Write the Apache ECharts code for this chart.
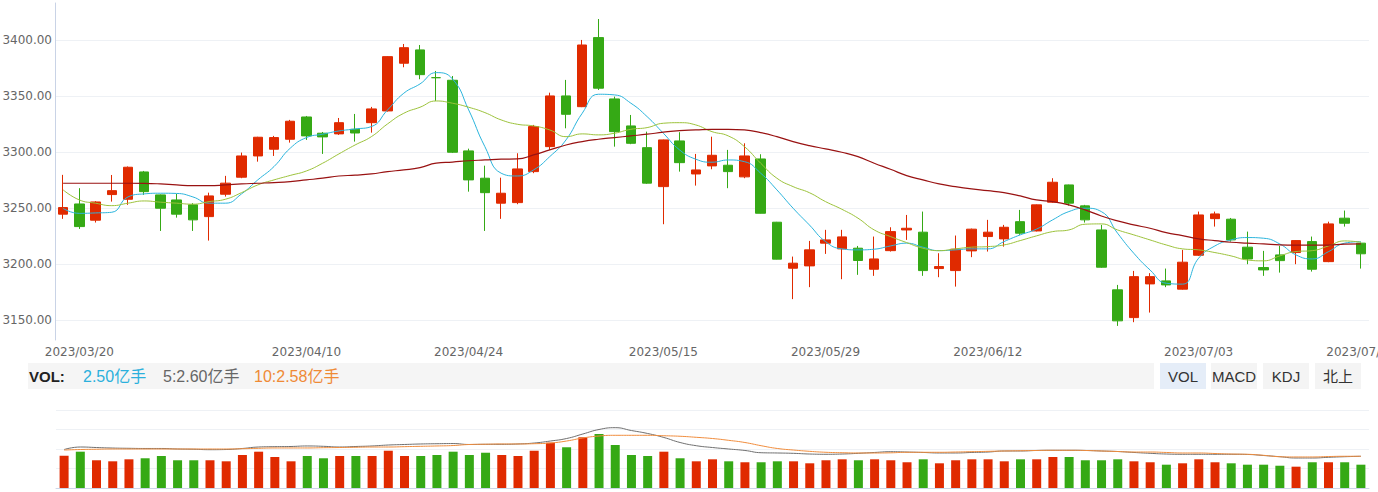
<!DOCTYPE html>
<html>
<head>
<meta charset="utf-8">
<script src="https://cdn.jsdelivr.net/npm/echarts/dist/echarts.min.js"></script>
<style>
html,body{margin:0;padding:0;background:#fff;}
#chart{width:1378px;height:492px;}
</style>
</head>
<body>
<div id="chart"></div>
<script>
const dates = ['2023/03/17','2023/03/20','2023/03/21','2023/03/22','2023/03/23','2023/03/24','2023/03/27','2023/03/28','2023/03/29','2023/03/30','2023/03/31',
'2023/04/03','2023/04/04','2023/04/06','2023/04/07','2023/04/10','2023/04/11','2023/04/12','2023/04/13','2023/04/14','2023/04/17','2023/04/18','2023/04/19','2023/04/20','2023/04/21','2023/04/24','2023/04/25','2023/04/26','2023/04/27','2023/04/28',
'2023/05/04','2023/05/05','2023/05/08','2023/05/09','2023/05/10','2023/05/11','2023/05/12','2023/05/15','2023/05/16','2023/05/17','2023/05/18','2023/05/19','2023/05/22','2023/05/23','2023/05/24','2023/05/25','2023/05/26','2023/05/29','2023/05/30','2023/05/31',
'2023/06/01','2023/06/02','2023/06/05','2023/06/06','2023/06/07','2023/06/08','2023/06/09','2023/06/12','2023/06/13','2023/06/14','2023/06/15','2023/06/16','2023/06/19','2023/06/20','2023/06/21','2023/06/26','2023/06/27','2023/06/28','2023/06/29','2023/06/30',
'2023/07/03','2023/07/04','2023/07/05','2023/07/06','2023/07/07','2023/07/10','2023/07/11','2023/07/12','2023/07/13','2023/07/14','2023/07/17'];

const xTickLabels = ['2023/03/20','2023/04/10','2023/04/24','2023/05/15','2023/05/29','2023/06/12','2023/07/03','2023/07/17'];

const openPrices = [3244.4,3253.5,3239.0,3261.9,3257.7,3282.1,3261.6,3257.1,3252.7,3242.2,3262.2,3277.4,3296.4,3302.4,3311.3,3331.2,3316.7,3316.1,3320.2,3326.1,
3336.6,3379.2,3391.1,3366.3,3364.0,3300.9,3276.5,3254.2,3254.7,3282.4,3304.7,3350.0,3340.4,3402.1,3347.3,3323.2,3303.8,3269.0,3309.8,3280.3,
3287.5,3288.1,3277.7,3293.7,3237.2,3196.1,3198.2,3218.5,3213.4,3214.0,3195.2,3211.8,3230.3,3228.3,3195.8,3194.0,3211.6,3224.4,3222.3,3237.7,
3229.4,3255.1,3270.5,3251.8,3230.3,3176.8,3152.0,3182.1,3184.8,3177.4,3207.7,3240.4,3239.9,3214.9,3196.7,3208.0,3210.1,3219.9,3202.0,3240.8,3218.5];
const closePrices = [3250.3,3233.3,3255.3,3265.4,3286.3,3264.5,3249.7,3244.4,3239.3,3260.7,3272.1,3296.4,3313.1,3312.8,3327.4,3314.3,3313.4,3326.1,3316.9,3338.4,
3385.1,3393.1,3369.0,3366.3,3299.7,3275.0,3263.6,3263.1,3284.8,3322.6,3350.0,3333.6,3395.5,3356.9,3318.1,3307.7,3272.1,3310.7,3290.4,3283.9,
3297.0,3282.4,3296.4,3245.2,3204.2,3200.6,3212.5,3221.4,3224.1,3203.0,3204.4,3228.8,3231.8,3194.0,3197.6,3213.1,3231.0,3228.3,3232.7,3227.4,
3252.7,3272.9,3254.2,3239.3,3197.0,3149.1,3188.6,3188.6,3181.2,3201.5,3243.7,3244.6,3221.4,3204.4,3194.6,3202.9,3220.8,3195.2,3235.7,3236.3,3209.0];
const lowPrices = [3240.2,3231.2,3236.9,3255.6,3252.7,3261.6,3229.4,3241.3,3229.4,3220.8,3260.1,3276.5,3291.3,3296.4,3308.3,3310.7,3298.2,3315.2,3309.2,3317.2,
3336.0,3375.6,3364.9,3345.5,3299.0,3264.5,3229.4,3240.2,3253.3,3281.0,3301.8,3321.1,3340.0,3355.3,3304.7,3306.9,3271.5,3235.4,3282.4,3269.9,
3284.5,3267.6,3276.5,3245.0,3204.0,3168.5,3179.2,3208.9,3186.3,3190.2,3189.3,3211.0,3221.4,3189.3,3188.1,3179.7,3206.0,3211.0,3215.4,3225.9,
3229.0,3254.5,3252.0,3236.9,3196.5,3144.6,3147.9,3156.5,3179.2,3177.0,3207.0,3233.3,3219.9,3199.7,3189.3,3192.2,3199.7,3193.1,3201.5,3233.3,3195.8];
const highPrices = [3279.5,3267.6,3256.0,3279.4,3287.0,3283.0,3262.0,3262.5,3254.2,3263.6,3278.6,3299.4,3313.5,3314.3,3328.6,3332.1,3317.8,3330.3,3333.9,3340.2,
3385.5,3396.4,3395.5,3372.3,3367.8,3302.9,3287.7,3277.0,3298.8,3324.1,3352.9,3364.3,3400.0,3418.7,3349.4,3333.0,3318.1,3311.0,3317.6,3298.2,
3313.6,3301.8,3307.7,3297.9,3237.5,3206.5,3220.5,3230.4,3230.4,3216.0,3224.4,3232.7,3243.7,3246.7,3209.5,3225.3,3231.5,3239.3,3234.8,3248.2,
3253.0,3276.5,3270.8,3252.7,3234.8,3181.2,3193.7,3191.7,3195.8,3212.5,3246.7,3246.7,3241.0,3228.8,3211.6,3216.0,3221.0,3224.4,3237.7,3247.6,3219.0];

const ma5 = [3249.5,3245.1,3245.5,3246.1,3259.8,3262.5,3263.1,3262.9,3259.8,3254.2,3254.2,3262.5,3275.0,3286.9,3303.3,3312.8,3315.8,3318.7,3320.5,3322.6,
3337.5,3352.4,3360.7,3370.8,3365.2,3337.5,3304.7,3281.0,3278.5,3283.9,3295.8,3310.7,3334.5,3351.5,3350.9,3343.5,3331.5,3316.7,3301.8,3293.5,
3290.8,3292.8,3291.3,3281.0,3266.1,3249.7,3234.8,3219.9,3213.4,3212.5,3213.1,3216.0,3218.5,3214.9,3211.8,3212.5,3213.4,3213.4,3219.9,3225.9,
3231.0,3239.3,3246.7,3249.7,3246.7,3227.4,3209.5,3194.6,3182.7,3181.9,3205.1,3216.0,3221.4,3223.5,3222.9,3217.8,3208.0,3204.4,3210.9,3218.5,3219.9];
const ma10 = [3266.1,3257.1,3254.2,3252.0,3254.2,3256.2,3255.1,3254.2,3253.3,3255.6,3257.7,3263.6,3270.5,3275.0,3279.0,3283.0,3289.9,3298.2,3306.2,3313.6,
3325.0,3334.5,3339.9,3345.5,3343.5,3339.9,3335.1,3328.6,3324.7,3323.2,3319.6,3313.6,3316.1,3315.2,3316.7,3320.2,3321.7,3325.6,3326.1,3324.1,
3318.1,3314.3,3304.7,3289.9,3276.5,3269.0,3263.6,3255.6,3248.8,3240.8,3230.3,3224.4,3219.0,3214.0,3211.8,3213.4,3214.9,3215.4,3216.9,3220.8,
3225.0,3228.8,3230.3,3235.4,3235.7,3230.3,3225.9,3221.4,3216.9,3213.4,3212.5,3210.1,3207.1,3203.5,3202.7,3207.1,3211.0,3211.8,3216.0,3220.5,3219.3];
const ma30 = [3272.0,3272.0,3272.0,3272.0,3272.0,3271.9,3271.4,3270.5,3269.9,3269.9,3270.5,3271.4,3272.0,3272.6,3273.5,3275.0,3276.5,3278.5,3279.2,3280.3,
3282.4,3283.9,3286.0,3289.9,3290.9,3292.1,3292.8,3293.5,3293.7,3297.3,3301.8,3306.2,3309.2,3311.3,3312.8,3314.3,3315.8,3317.6,3319.0,3319.6,
3320.2,3320.2,3319.6,3317.2,3313.6,3309.2,3305.6,3302.7,3299.7,3295.8,3289.9,3284.5,3278.8,3275.0,3271.4,3269.0,3267.0,3265.4,3263.6,3260.7,
3257.1,3255.6,3252.7,3248.2,3242.8,3238.4,3234.8,3231.8,3227.9,3225.3,3222.3,3220.8,3219.3,3218.5,3217.8,3216.9,3216.7,3216.7,3216.7,3217.6,3217.8];

// volume in 亿手
const volumes = [2.623,2.669,2.570,2.558,2.581,2.593,2.619,2.570,2.570,2.570,2.558,2.631,2.669,2.608,2.558,2.619,2.593,2.619,2.619,2.619,
2.680,2.619,2.619,2.631,2.669,2.631,2.657,2.631,2.619,2.680,2.773,2.720,2.835,2.873,2.746,2.631,2.619,2.669,2.593,2.558,
2.581,2.558,2.547,2.547,2.558,2.558,2.535,2.570,2.581,2.570,2.581,2.570,2.547,2.581,2.535,2.570,2.581,2.581,2.558,2.581,
2.581,2.608,2.608,2.570,2.570,2.581,2.558,2.547,2.519,2.535,2.581,2.547,2.535,2.519,2.519,2.507,2.496,2.547,2.547,2.547,2.519];
const volMa5 = [2.694,2.723,2.717,2.711,2.708,2.706,2.706,2.700,2.697,2.692,2.694,2.706,2.723,2.727,2.729,2.735,2.731,2.723,2.729,2.735,
2.746,2.752,2.758,2.761,2.763,2.752,2.754,2.754,2.758,2.769,2.792,2.821,2.873,2.925,2.946,2.913,2.879,2.833,2.775,2.738,
2.717,2.700,2.683,2.657,2.654,2.650,2.642,2.639,2.642,2.650,2.660,2.669,2.665,2.660,2.654,2.654,2.660,2.665,2.677,2.677,
2.683,2.685,2.685,2.683,2.677,2.671,2.660,2.650,2.642,2.639,2.639,2.639,2.639,2.637,2.625,2.611,2.596,2.596,2.604,2.611,2.616];
const volMa10 = [2.688,2.694,2.697,2.700,2.700,2.700,2.700,2.700,2.700,2.700,2.700,2.703,2.708,2.712,2.712,2.712,2.715,2.717,2.720,2.723,
2.723,2.727,2.731,2.735,2.740,2.752,2.755,2.758,2.758,2.761,2.769,2.792,2.827,2.850,2.858,2.858,2.858,2.853,2.847,2.835,
2.821,2.800,2.775,2.738,2.706,2.688,2.673,2.662,2.657,2.654,2.654,2.656,2.662,2.662,2.662,2.665,2.669,2.673,2.677,2.680,
2.683,2.685,2.685,2.683,2.677,2.671,2.665,2.665,2.660,2.654,2.654,2.648,2.642,2.639,2.627,2.611,2.608,2.608,2.613,2.616,2.616];

const volHeader = [
  {text:'VOL:', x:29, color:'#222', bold:true},
  {text:'2.50亿手', x:83, color:'#2bb0dc'},
  {text:'5:2.60亿手', x:163, color:'#666666'},
  {text:'10:2.58亿手', x:254, color:'#ef8a35'}
];
const tabs = ['VOL','MACD','KDJ','北上'];

const UP = '#e02a00', DOWN = '#35a915';
const FONT = '"Liberation Sans", "Noto Sans CJK SC", Arial, sans-serif';
const AXFONT = '"DejaVu Sans", sans-serif';

const candleData = dates.map((d,i)=>[openPrices[i], closePrices[i], lowPrices[i], highPrices[i]]);
function isUp(i){
  if (closePrices[i] > openPrices[i]) return true;
  if (closePrices[i] < openPrices[i]) return false;
  return i === 0 ? true : closePrices[i-1] <= closePrices[i];
}
const volData = volumes.map((v,i)=>({value:v, itemStyle:{color: isUp(i) ? UP : DOWN}}));

const graphic = [
  {type:'rect', silent:true, shape:{x:28,y:363,width:1126,height:26}, style:{fill:'#f5f5f5'}}
];
volHeader.forEach(h=>{
  graphic.push({type:'text', silent:true, x:h.x, y:376, style:{text:h.text, fill:h.color,
    font:(h.bold?'bold 15px ':'16px ')+FONT, align:'left', verticalAlign:'middle'}});
});
tabs.forEach((t,k)=>{
  const x = [1160,1211,1263,1315][k];
  graphic.push({type:'rect', silent:true, shape:{x:x,y:363,width:46,height:26}, style:{fill: k===0 ? '#e5edf8' : '#f4f4f4'}});
  graphic.push({type:'text', silent:true, x:x+23, y:376, style:{text:t, fill:'#333', font:'15px '+FONT, align:'center', verticalAlign:'middle'}});
});

const chart = echarts.init(document.getElementById('chart'), null, {renderer:'svg', width:1378, height:492});
chart.setOption({
  animation:false,
  backgroundColor:'#fff',
  graphic: graphic,
  grid:[
    {left:55, right:9, top:3, bottom:152, containLabel:false, outerBoundsMode:'none'},
    {left:56, right:9, top:410, bottom:4, containLabel:false, outerBoundsMode:'none'}
  ],
  xAxis:[
    {type:'category', gridIndex:0, data:dates, boundaryGap:true,
     axisLine:{show:false}, axisTick:{show:false}, splitLine:{show:false},
     axisLabel:{color:'#666', fontSize:12, fontFamily:AXFONT, margin:6, hideOverlap:false,
       interval:function(idx, val){ return xTickLabels.indexOf(val) >= 0; }}},
    {type:'category', gridIndex:1, data:dates, boundaryGap:true,
     axisLine:{show:true, lineStyle:{color:'#cdd6e8', width:1}}, axisTick:{show:false},
     axisLabel:{show:false}, splitLine:{show:false}}
  ],
  yAxis:[
    {type:'value', gridIndex:0, min:3132, max:3433, splitNumber:5, scale:true,
     axisLine:{show:true, lineStyle:{color:'#c9d3e6'}}, axisTick:{show:false},
     axisLabel:{color:'#666', fontSize:12, fontFamily:AXFONT, margin:3, showMinLabel:false, showMaxLabel:false,
       formatter:function(v){ return v.toFixed(2); }},
     splitLine:{show:true, showMinLine:false, showMaxLine:false, lineStyle:{color:'#eef1f5', width:1}}},
    {type:'value', gridIndex:1, min:2.25, max:3.15, interval:0.225,
     axisLine:{show:false}, axisTick:{show:false}, axisLabel:{show:false},
     splitLine:{show:true, lineStyle:{color:'#eef1f5', width:1}}}
  ],
  series:[
    {type:'candlestick', name:'K', xAxisIndex:0, yAxisIndex:0, data:candleData, barWidth:10,
     itemStyle:{color:UP, color0:DOWN, borderColor:UP, borderColor0:DOWN, borderWidth:1}},
    {type:'line', name:'MA5', xAxisIndex:0, yAxisIndex:0, data:ma5, smooth:true, symbol:'none',
     lineStyle:{color:'#2bb4dc', width:1}},
    {type:'line', name:'MA10', xAxisIndex:0, yAxisIndex:0, data:ma10, smooth:true, symbol:'none',
     lineStyle:{color:'#9cc23b', width:1}},
    {type:'line', name:'MA30', xAxisIndex:0, yAxisIndex:0, data:ma30, smooth:true, symbol:'none',
     lineStyle:{color:'#991212', width:1.2}},
    {type:'bar', name:'VOL', xAxisIndex:1, yAxisIndex:1, data:volData, barWidth:9, clip:true},
    {type:'line', name:'VMA5', xAxisIndex:1, yAxisIndex:1, data:volMa5, smooth:true, symbol:'none',
     lineStyle:{color:'#6f6f6f', width:1}},
    {type:'line', name:'VMA10', xAxisIndex:1, yAxisIndex:1, data:volMa10, smooth:true, symbol:'none',
     lineStyle:{color:'#f08c3c', width:1}}
  ]
});
</script>
</body>
</html>
